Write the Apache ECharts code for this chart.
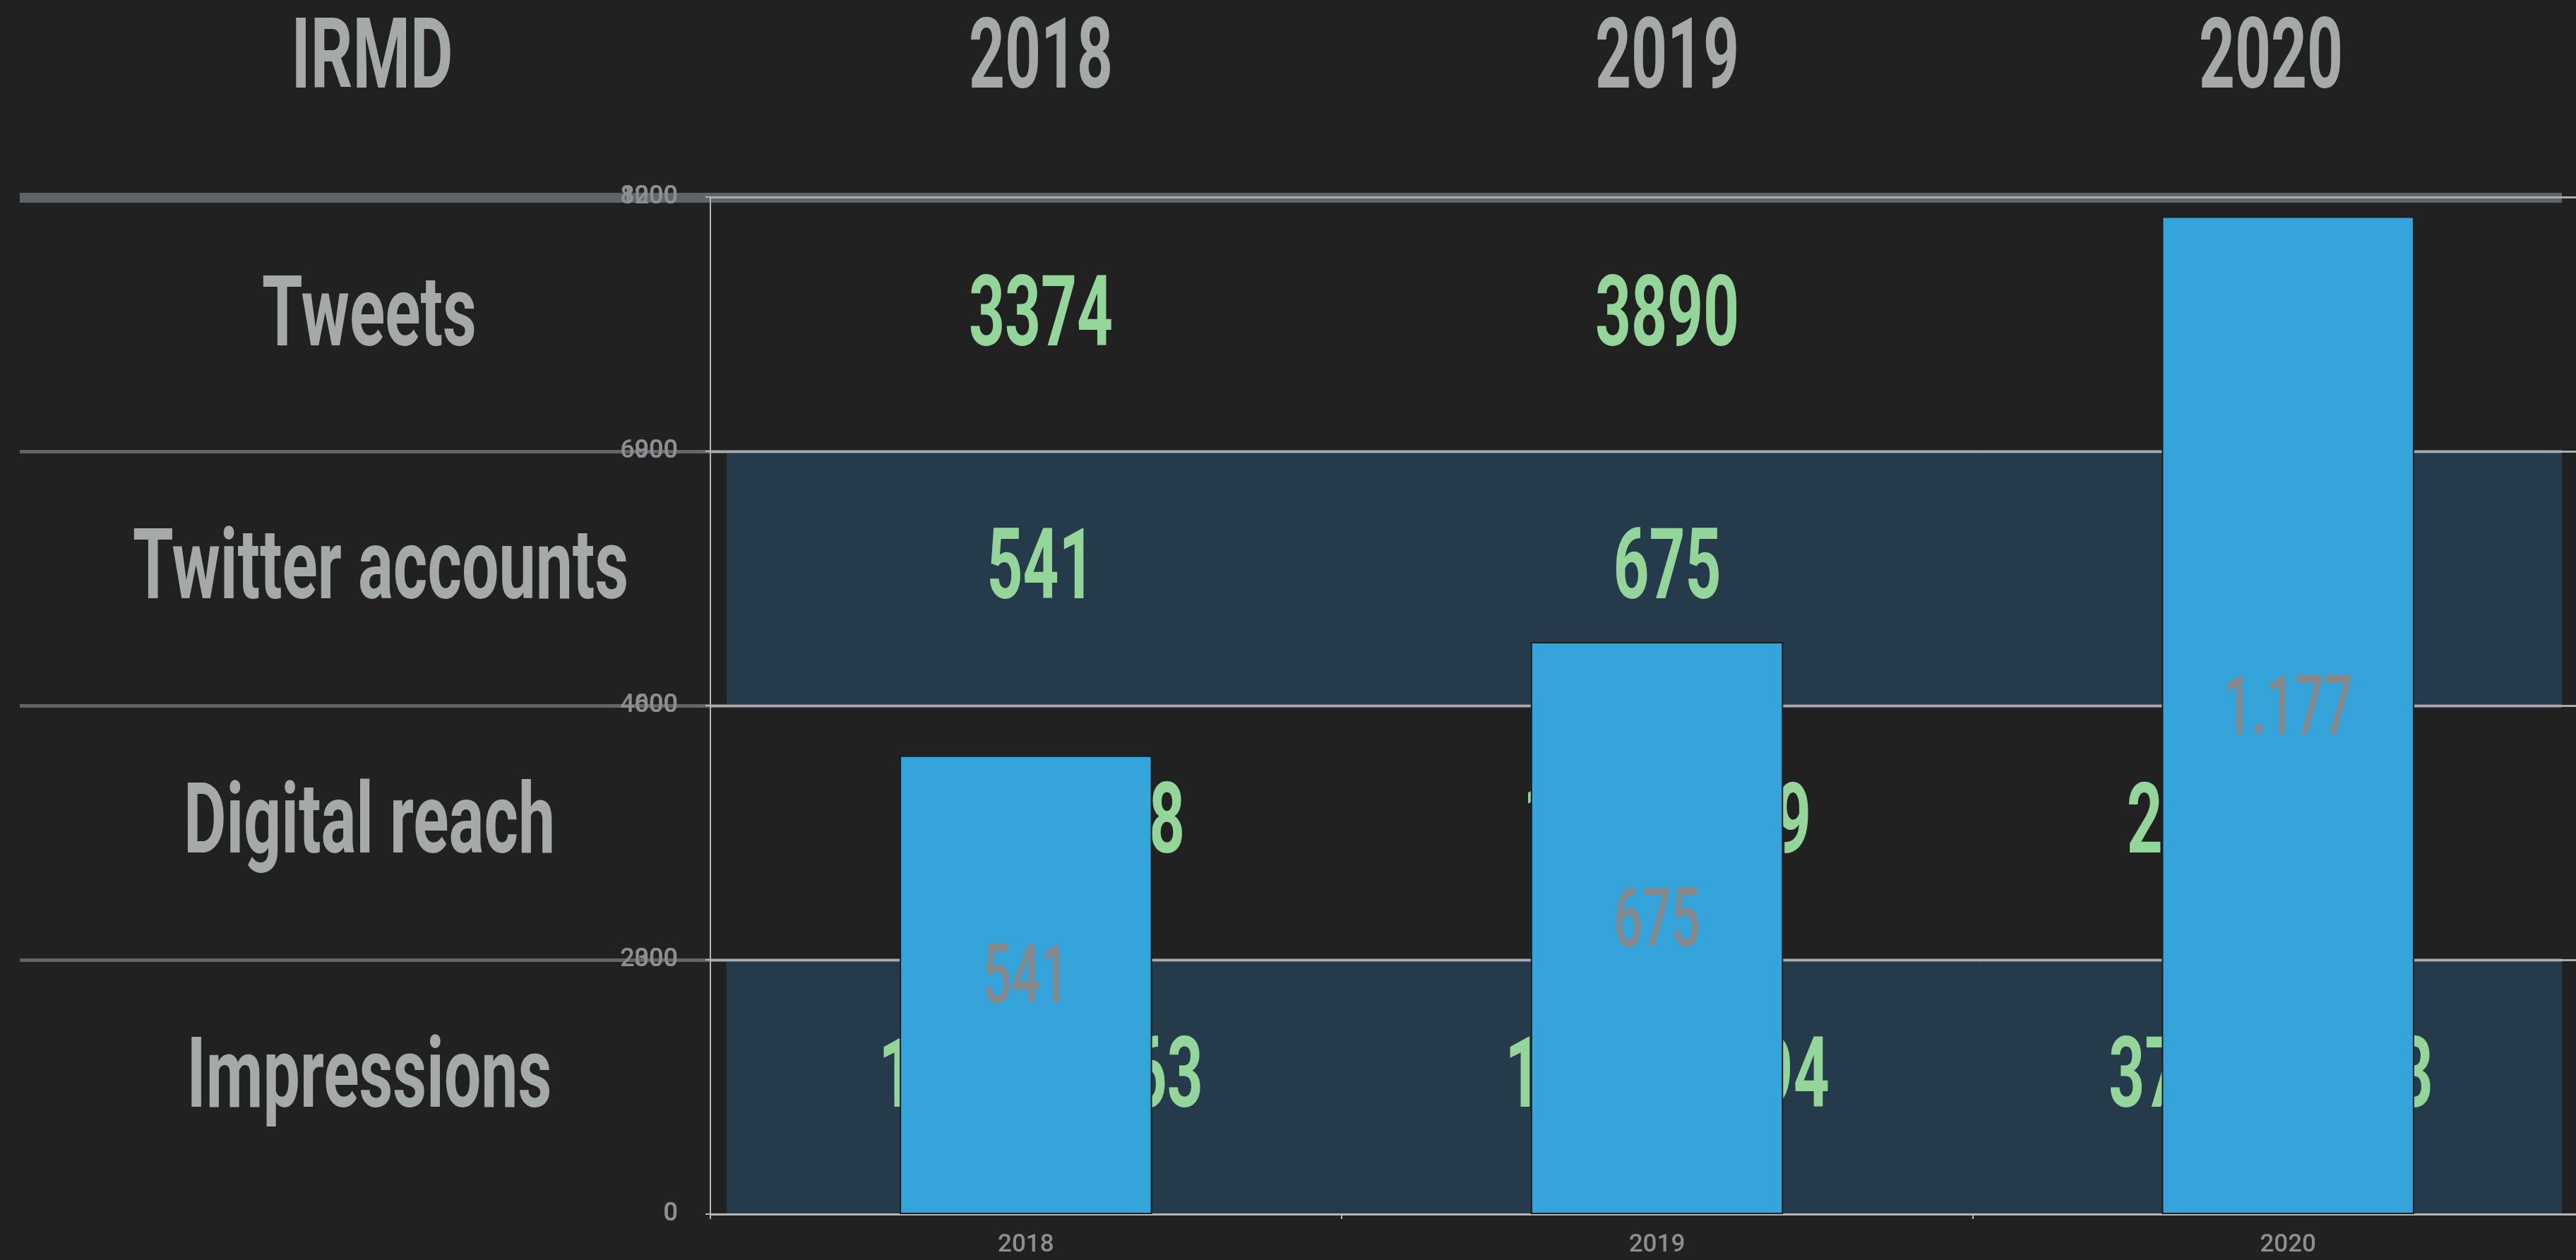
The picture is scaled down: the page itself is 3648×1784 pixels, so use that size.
<!DOCTYPE html>
<html lang="en">

<head>
    <meta charset="UTF-8" />
    <title>IRMD</title>
    <script src="https://cdn.jsdelivr.net/npm/echarts@6/dist/echarts.min.js"></script>
    <style>
        body {
            margin: 0;
            background: #212121;
            overflow: hidden;
        }

        #stage {
            position: relative;
            width: 3648px;
            height: 1784px;
            overflow: hidden;
            background: #212121;
        }

        .band {
            position: absolute;
            background: #253b4b;
        }

        .rule {
            position: absolute;
            background: #5f666b;
        }

        .cell {
            position: absolute;
            width: 1000px;
            height: 139px;
            line-height: 139px;
            font-family: Roboto, "Liberation Sans", sans-serif;
            font-weight: bold;
            font-size: 139px;
            text-align: center;
            white-space: nowrap;
            transform: scaleX(0.64);
        }

        .cell.name {
            transform: scaleX(0.67);
        }

        #chart {
            position: absolute;
            left: 0;
            top: 0;
            width: 3700px;
            height: 1784px;
        }
    </style>
</head>

<body>
    <div id="stage">
        <div id="chart"></div>
    </div>
</body>
<script type="text/javascript">
    // table content
    const corner = 'IRMD';
    const years = ['2018', '2019', '2020'];
    const rowLabels = ['Tweets', 'Twitter accounts', 'Digital reach', 'Impressions'];
    const tweets = ['3374', '3890', '7214'];
    const accountsText = ['541', '675', '1177'];
    const reach = ['10642318', '13507249', '25831406'];
    const impressions = ['128540163', '146219094', '372086553'];

    // bar series (twitter accounts)
    const accounts = [541, 675, 1177];
    // axis ticks
    const leftTicks = [0, 2000, 4000, 6000, 8000];
    const accountTicks = [0, 300, 600, 900, 1200];

    const stage = document.getElementById('stage');
    const colCenters = [527, 1474, 2361, 3216];
    const rowTops = [280, 640, 1000, 1360, 1720];

    function addDiv(cls, css, text) {
        let d = document.createElement('div');
        d.className = cls;
        Object.assign(d.style, css);
        if (text !== undefined) d.textContent = text;
        stage.insertBefore(d, document.getElementById('chart'));
        return d;
    }

    // zebra bands behind rows 2 and 4
    [1, 3].forEach(i => {
        addDiv('band', { left: '1029px', width: '2599px', top: rowTops[i] + 'px', height: (rowTops[i + 1] - rowTops[i]) + 'px' });
        addDiv('band', { left: '2803px', width: '1px', top: rowTops[i] + 'px', height: (rowTops[i + 1] - rowTops[i]) + 'px', background: '#1f4256' });
    });
    // row borders
    addDiv('rule', { left: '28px', width: '3600px', top: '273px', height: '14px' });
    [640, 1000, 1360].forEach(y => {
        addDiv('rule', { left: '28px', width: '3600px', top: (y - 3) + 'px', height: '5px' });
    });

    function addCell(text, cx, cy, color, cls) {
        addDiv('cell' + (cls ? ' ' + cls : ''), { left: (cx - 500) + 'px', top: (cy - 70) + 'px', color: color }, text);
    }
    // header
    const grey = '#a5aaa9', green = '#94d59a';
    addCell(corner, colCenters[0], 77, grey, 'name');
    years.forEach((y, i) => addCell(y, colCenters[i + 1], 77, grey));
    // body rows
    const rowValues = [tweets, accountsText, reach, impressions];
    const rowCaps = [442, 800, 1160, 1520];
    rowLabels.forEach((lab, r) => {
        addCell(lab, colCenters[0] - 4, rowCaps[r], grey, 'name');
        rowValues[r].forEach((v, i) => addCell(v, colCenters[i + 1], rowCaps[r], green));
    });

    const axisFont = 'Roboto, sans-serif';
    const axisGrey = '#8b8f91';
    const lineGrey = '#b4b6b7';
    const dotted = v => String(v).replace(/\B(?=(\d{3})+(?!\d))/g, '.');

    var myChart = echarts.init(document.getElementById('chart'));
    var option = {
        backgroundColor: 'transparent',
        animation: false,
        grid: { left: 1006, right: 13, top: 279, bottom: 65 },
        xAxis: {
            type: 'category',
            data: years,
            axisLine: { lineStyle: { color: lineGrey, width: 3 } },
            axisTick: { show: true, length: 7, lineStyle: { color: lineGrey, width: 2 } },
            axisLabel: { color: axisGrey, fontSize: 35, fontWeight: 500, fontFamily: axisFont, margin: 27 },
            splitLine: { show: false }
        },
        yAxis: [{
            type: 'value',
            position: 'left',
            min: leftTicks[0],
            max: leftTicks[leftTicks.length - 1],
            interval: leftTicks[1] - leftTicks[0],
            axisLine: { show: true, lineStyle: { color: lineGrey, width: 2 } },
            axisTick: { show: true, length: 7, lineStyle: { color: lineGrey, width: 2 } },
            axisLabel: { color: axisGrey, fontSize: 36, fontWeight: 500, fontFamily: axisFont, margin: 46, formatter: v => String(v) },
            splitLine: { show: true, lineStyle: { color: '#a9acae', width: 3 } }
        }, {
            type: 'value',
            position: 'left',
            offset: 0,
            min: accountTicks[0],
            max: accountTicks[accountTicks.length - 1],
            interval: accountTicks[1] - accountTicks[0],
            axisLine: { show: false },
            axisTick: { show: false },
            axisLabel: { color: axisGrey, fontSize: 36, fontWeight: 500, fontFamily: axisFont, margin: 46, formatter: v => String(v) },
            splitLine: { show: false }
        }],
        series: [{
            type: 'bar',
            yAxisIndex: 1,
            data: accounts,
            barWidth: '40%',
            itemStyle: { color: '#34a4da', borderColor: '#1c1c1c', borderWidth: 2 },
            label: { show: false }
        }, {
            // condensed value labels in the middle of each bar
            type: 'custom',
            yAxisIndex: 1,
            data: accounts.map((v, i) => [i, v]),
            z: 5,
            renderItem: function (params, api) {
                const base = api.coord([api.value(0), 0]);
                const top = api.coord([api.value(0), api.value(1)]);
                return {
                    type: 'text',
                    x: top[0],
                    y: (top[1] + base[1]) / 2 - 3,
                    scaleX: 0.62,
                    style: {
                        text: dotted(api.value(1)),
                        fill: '#85898b',
                        font: '500 116px Roboto, sans-serif',
                        align: 'center',
                        verticalAlign: 'middle'
                    }
                };
            }
        }]
    };
    myChart.setOption(option);
</script>

</html>
